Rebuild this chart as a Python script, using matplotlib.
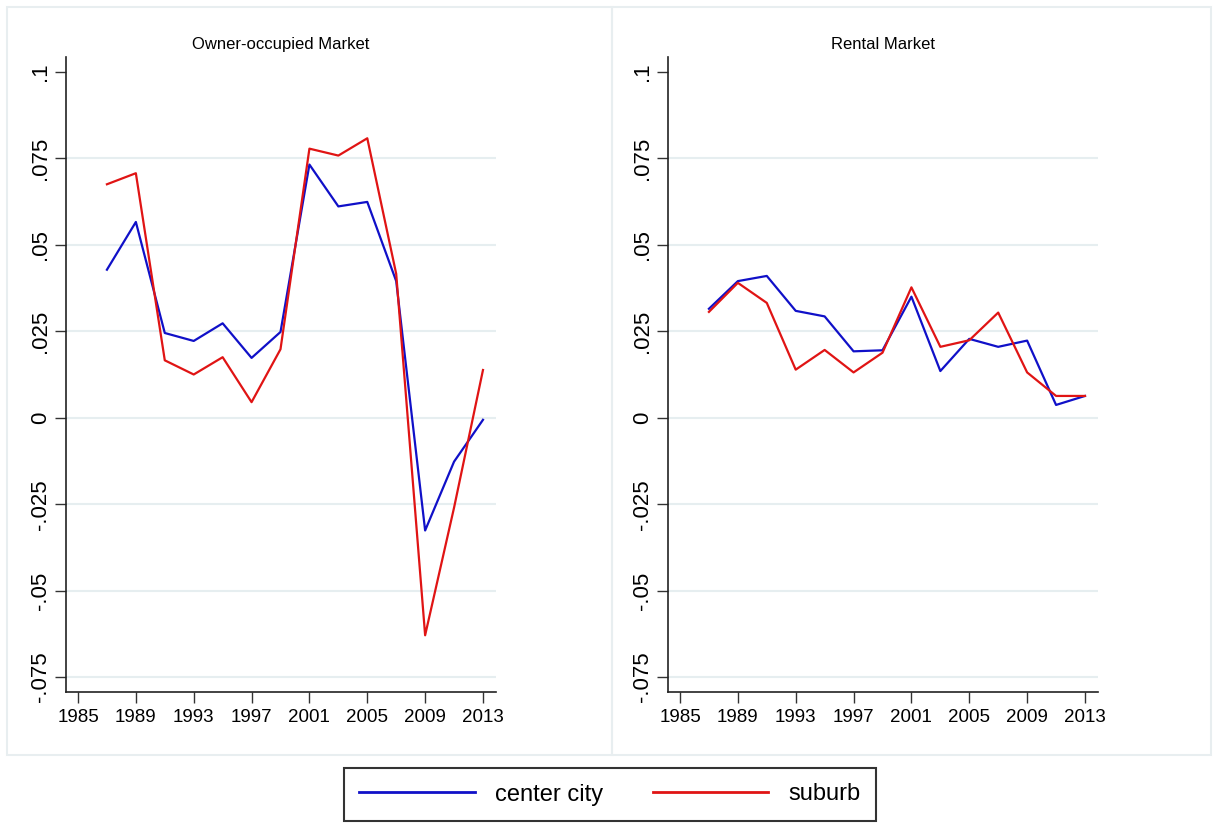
"""
Owner-occupied vs rental market: center city and suburb series, 1987-2013
"""

# Imports
import matplotlib
matplotlib.use("Agg")
import matplotlib.pyplot as plt
from matplotlib.lines import Line2D
from matplotlib.patches import Rectangle

# Data
years = [1987, 1989, 1991, 1993, 1995, 1997, 1999, 2001, 2003, 2005, 2007, 2009, 2011, 2013]

owner_center = [0.0428, 0.0566, 0.0245, 0.0222, 0.0273, 0.0173, 0.0248,
                0.0732, 0.0611, 0.0624, 0.0395, -0.0326, -0.0127, -0.0006]
owner_suburb = [0.0675, 0.0707, 0.0166, 0.0125, 0.0175, 0.0045, 0.0198,
                0.0778, 0.0758, 0.0808, 0.0416, -0.0629, -0.0260, 0.0138]

rental_center = [0.0315, 0.0395, 0.0410, 0.0309, 0.0293, 0.0192, 0.0195,
                 0.0350, 0.0135, 0.0228, 0.0205, 0.0223, 0.0037, 0.0063]
rental_suburb = [0.0306, 0.0390, 0.0332, 0.0139, 0.0196, 0.0131, 0.0188,
                 0.0377, 0.0205, 0.0224, 0.0304, 0.0131, 0.0063, 0.0063]

panel_titles = ["Owner-occupied Market", "Rental Market"]
series_labels = ["center city", "suburb"]

x_ticks = [1985, 1989, 1993, 1997, 2001, 2005, 2009, 2013]
y_ticks = [-0.075, -0.05, -0.025, 0, 0.025, 0.05, 0.075, 0.1]
y_tick_labels = ["-.075", "-.05", "-.025", "0", ".025", ".05", ".075", ".1"]

BLUE = "#1010c8"
RED = "#e01414"
GRID = "#e6eef0"
FRAME = "#e8eef0"

plt.rcParams["font.family"] = ["Liberation Sans", "DejaVu Sans"]

fig = plt.figure(figsize=(12.21, 8.25), dpi=100)

# Light frames around each panel (graph region)
for x0, x1 in [(7, 612), (612, 1211)]:
    fig.patches.append(Rectangle((x0 / 1221, 1 - 755 / 825), (x1 - x0) / 1221, (755 - 7) / 825,
                                 transform=fig.transFigure, fill=False,
                                 edgecolor=FRAME, linewidth=1.5))

panel_data = [(owner_center, owner_suburb), (rental_center, rental_suburb)]
lefts = [66 / 1221, 668 / 1221]

for left, title, (center, suburb) in zip(lefts, panel_titles, panel_data):
    ax = fig.add_axes([left, 1 - 692 / 825, 430 / 1221, (692 - 57) / 825])
    ax.plot(years, center, color=BLUE, linewidth=1.6)
    ax.plot(years, suburb, color=RED, linewidth=1.6)

    ax.set_xlim(1984.17, 2013.9)
    ax.set_ylim(-0.0793, 0.1043)
    ax.set_xticks(x_ticks)
    ax.set_yticks(y_ticks)
    ax.set_yticklabels(y_tick_labels, rotation=90, va="center")
    ax.tick_params(axis="both", length=8, width=1, color="#333333", pad=4)
    ax.tick_params(axis="x", labelsize=13.5)
    ax.tick_params(axis="y", labelsize=16, pad=3)

    # Horizontal grid lines, none at the top tick
    ax.yaxis.grid(True, color=GRID, linewidth=1.5)
    ax.set_axisbelow(True)
    ax.get_ygridlines()[-1].set_visible(False)

    for side in ["top", "right"]:
        ax.spines[side].set_visible(False)
    for side in ["left", "bottom"]:
        ax.spines[side].set_color("#222222")
        ax.spines[side].set_linewidth(1.2)

    ax.set_title(title, fontsize=12, pad=6)

# Legend
handles = [Line2D([], [], color=BLUE, linewidth=2),
           Line2D([], [], color=RED, linewidth=2)]
leg = fig.legend(handles, series_labels, loc="center", bbox_to_anchor=(610 / 1221, 1 - 794.5 / 825),
                 ncol=2, fontsize=17, handlelength=4.9, handletextpad=0.85, columnspacing=2.1,
                 fancybox=False, frameon=True, borderpad=0.65, borderaxespad=0)
leg.get_frame().set_edgecolor("black")
leg.get_frame().set_linewidth(1.5)

fig.savefig("out.png", dpi=100)
